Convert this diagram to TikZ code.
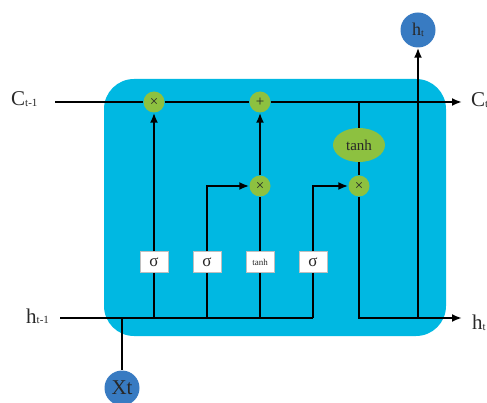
\documentclass[tikz,border=0pt]{standalone}
\usepackage{fontspec}
\setmainfont{Liberation Serif}
\usetikzlibrary{arrows.meta,shapes.geometric}
\definecolor{cellblue}{RGB}{0,184,226}
\definecolor{opgreen}{RGB}{141,193,64}
\definecolor{ioblue}{RGB}{56,123,194}
\definecolor{inkgray}{RGB}{40,40,40}
% label with a large letter and a small, slightly lowered index
\newcommand\lstmlabel[4]{{\fontsize{#3}{#3}\selectfont #1}\raisebox{-1pt}{\fontsize{#4}{#4}\selectfont #2}}
\tikzset{
  wire/.style={line width=2pt, black},
  flow/.style={wire, -{Latex[length=10pt,width=8pt]}},
  op/.style={circle, fill=opgreen, minimum size=21pt, inner sep=0pt,
             text=inkgray, font=\fontsize{15}{15}\selectfont},
  gatebox/.style={rectangle, fill=white, draw=gray!50, line width=0.6pt,
                  minimum width=28pt, minimum height=21pt, inner sep=0pt,
                  text=inkgray, font=\fontsize{17}{17}\selectfont},
  io/.style={circle, fill=ioblue, minimum size=35pt, inner sep=0pt, text=inkgray},
  lbl/.style={inner sep=0pt, text=inkgray},
}
\begin{document}
\begin{tikzpicture}[x=1pt,y=-1pt]
\useasboundingbox (0,0) rectangle (487,403);
% cell body
\fill[cellblue, rounded corners=30pt] (104,79) rectangle (446,336);

% pointwise operations
\node[op] (m1) at (154,102) {×};
\node[op] (add) at (260,102) {+};
\node[op] (m2) at (260,186) {×};
\node[op] (m3) at (359,186) {×};
\node[ellipse, fill=opgreen, minimum width=52pt, minimum height=34pt, inner sep=0pt,
      text=inkgray, font=\fontsize{15}{15}\selectfont] (th) at (359,145) {tanh};

% gate layers
\node[gatebox] (gf) at (154,262) {σ};
\node[gatebox] (gi) at (207,262) {σ};
\node[gatebox, font=\fontsize{9}{9}\selectfont] (gc) at (260,262) {tanh};
\node[gatebox] (go) at (313,262) {σ};

% inputs and output
\node[io] (ht) at (418,30) {\lstmlabel{h}{t}{18}{10}};
\node[io] (xt) at (122,388) {\fontsize{21}{21}\selectfont Xt};

% wire end points
\coordinate (cin) at (55,102);
\coordinate (cout) at (462,102);
\coordinate (cb) at (359,102);
\coordinate (hin) at (60,318);
\coordinate (hend) at (313,318);
\coordinate (hout) at (462,318);
\coordinate (xb) at (122,318);
\coordinate (hb) at (418,318);

% outer labels
\node[lbl, anchor=base west] (lcin) at (11,106) {\lstmlabel{C}{t-1}{21}{11}};
\node[lbl, anchor=base west] (lhin) at (26,323) {\lstmlabel{h}{t-1}{21}{11}};
\node[lbl, anchor=base west] (lcout) at (471,107) {\lstmlabel{C}{t}{21}{11}};
\node[lbl, anchor=base west] (lhout) at (472,329) {\lstmlabel{h}{t}{21}{11}};

% cell state line
\draw[flow] (cin) -- (m1) -- (add) -- (cout);
\draw[wire] (cb) -- (th);
\draw[wire] (th) -- (m3);

% hidden state in, shared by all gates
\draw[wire] (hin) -- (hend);
\draw[wire] (xb) -- (xt);
\foreach \g in {gf,gi,gc,go}
  \draw[wire] (\g.south) -- (\g.south |- hin);

% gate outputs
\draw[flow] (gf) -- (m1);
\draw[flow] (gi) |- (m2);
\draw[wire] (gc) -- (m2);
\draw[flow] (m2) -- (add);
\draw[flow] (go) |- (m3);

% hidden state out
\draw[flow] (m3) |- (hout);
\draw[flow] (hb) -- (ht);
\end{tikzpicture}
\end{document}
